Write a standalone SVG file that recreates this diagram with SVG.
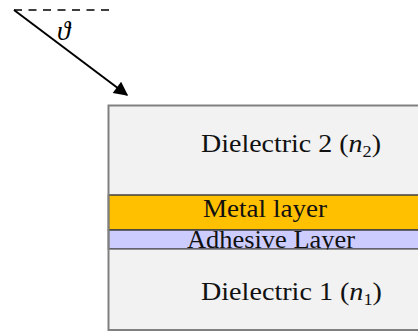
<svg xmlns="http://www.w3.org/2000/svg" width="418" height="332" viewBox="0 0 418 332">
<style>
.t{font-family:"Liberation Serif","Times New Roman",serif;font-size:26px;fill:#111}
.m{font-style:italic}
.s{font-size:17px}
.lay{stroke:#404040;stroke-width:1.5}
</style>
<defs>
<marker id="ah" viewBox="0 0 10 10" refX="9" refY="5" markerWidth="9" markerHeight="7" markerUnits="strokeWidth" orient="auto">
<path d="M0,0 L10,5 L0,10 Z" fill="#000"/>
</marker>
</defs>
<rect width="418" height="332" fill="#fff"/>
<g id="dielectric2">
<rect x="108.5" y="105.5" width="312" height="89" fill="#f2f2f2"/>
<text class="t" x="201" y="152" textLength="180" lengthAdjust="spacingAndGlyphs">Dielectric 2 (<tspan class="m">n</tspan><tspan class="s" dy="5">2</tspan><tspan dy="-5">)</tspan></text>
</g>
<g id="metal">
<rect class="lay" x="108.5" y="195" width="312" height="35" fill="#ffc000"/>
<text class="t" x="203" y="217" textLength="124" lengthAdjust="spacingAndGlyphs">Metal layer</text>
</g>
<g id="adhesive">
<rect class="lay" x="108.5" y="230" width="312" height="19" fill="#ccccff"/>
<text class="t" x="187" y="248" textLength="168" lengthAdjust="spacingAndGlyphs">Adhesive Layer</text>
</g>
<g id="dielectric1">
<rect x="108.5" y="249.75" width="312" height="80" fill="#f2f2f2"/>
<text class="t" x="201" y="300" textLength="181" lengthAdjust="spacingAndGlyphs">Dielectric 1 (<tspan class="m">n</tspan><tspan class="s" dy="5">1</tspan><tspan dy="-5">)</tspan></text>
</g>
<rect x="108.5" y="105.5" width="312" height="224.5" fill="none" stroke="#808080" stroke-width="2"/>
<g id="connectors">
<line x1="14" y1="10" x2="110" y2="10" stroke="#000" stroke-width="1.5" stroke-dasharray="8,6.5"/>
<line x1="14" y1="10" x2="127" y2="95" stroke="#000" stroke-width="2" marker-end="url(#ah)"/>
<text x="57" y="40" style="font-family:'Liberation Serif','DejaVu Serif',serif;font-size:27px;font-style:italic;fill:#000">ϑ</text>
</g>
</svg>
